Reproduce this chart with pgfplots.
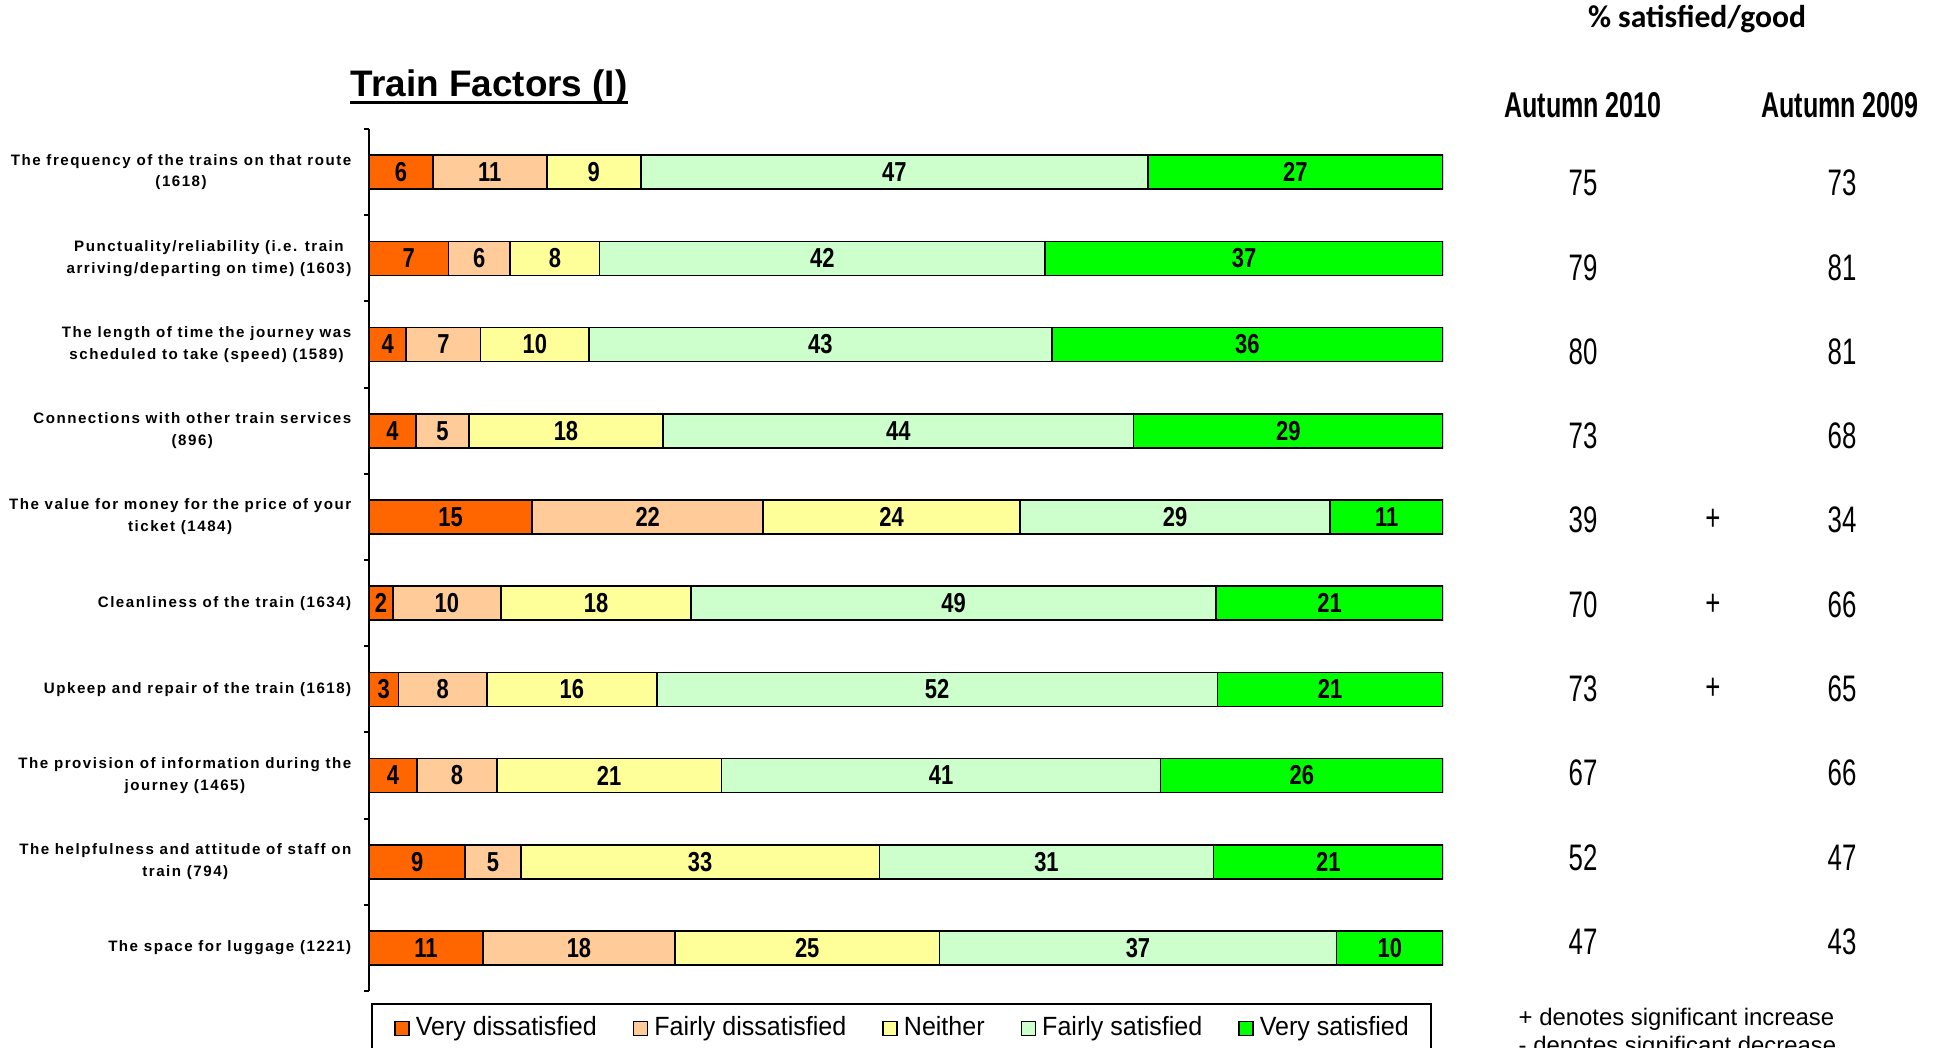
\documentclass[border=0pt]{standalone}
\usepackage{fontspec}
\setmainfont{Liberation Sans}
\newfontfamily\lblfont{Liberation Sans}[LetterSpace=10]
\newfontfamily\barfont{Liberation Sans}[FakeStretch=0.8]
\newfontfamily\condfont{Liberation Sans}[FakeStretch=0.7]
\newfontfamily\legfont{Liberation Sans}[FakeStretch=0.95]
\newfontfamily\calfont{Carlito}
\usepackage{pgfplots}
\usepackage{pgfplotstable}
\pgfplotsset{compat=1.18}

\definecolor{vdis}{HTML}{FF6600}
\definecolor{fdis}{HTML}{FFCC99}
\definecolor{neit}{HTML}{FFFF99}
\definecolor{fsat}{HTML}{CCFFCC}
\definecolor{vsat}{HTML}{00FF00}

% bar widths (percent of respondents) and the rounded labels printed on them
\pgfplotstableread{
row vd    fd    ne    fs    vs    lvd lfd lne lfs lvs
1   5.95  10.6  8.76  47.2  27.49 6   11  9   47  27
2   7.39  5.76  8.31  41.5  37.04 7   6   8   42  37
3   3.47  6.93  10.07 43.1  36.43 4   7   10  43  36
4   4.38  4.91  18.1  43.8  28.81 4   5   18  44  29
5   15.2  21.5  23.9  28.9  10.5  15  22  24  29  11
6   2.22  10.07 17.7  48.9  21.11 2   10  18  49  21
7   2.75  8.24  15.8  52.2  21.01 3   8   16  52  21
8   4.45  7.46  20.9  40.9  26.29 4   8   21  41  26
9   8.96  5.17  33.4  31.1  21.37 9   5   33  31  21
10  10.6  17.9  24.6  37.0  9.9   11  18  25  37  10
}\trainfactors

\begin{document}
\begin{tikzpicture}
\path[use as bounding box] (0,0) rectangle (19.40,-10.48);
\clip (0,0) rectangle (19.40,-10.48);

\node[anchor=base west, inner sep=0pt, font=\bfseries\fontsize{10.5}{12}\selectfont] (title) at (3.50,-0.97) {Train Factors (I)};
\draw[line width=0.3mm] ([yshift=-0.55mm]title.base west) -- ([yshift=-0.55mm]title.base east);

\begin{axis}[
  at={(3.69cm,-1.29cm)}, anchor=north west,
  scale only axis, width=10.74cm, height=8.62cm,
  xbar stacked, bar width=0.34cm,
  xmin=0, xmax=100, ymin=0.5, ymax=10.5, y dir=reverse,
  enlarge x limits=false, enlarge y limits=false,
  axis x line=none, axis y line=left, axis line style={-, line width=0.6pt},
  xtick=\empty,
  ytick={1,...,10}, major tick length=0pt,
  yticklabels={
    {The frequency of the trains on that route\\(1618)},
    {Punctuality/reliability (i.e. train\\arriving/departing on time) (1603)},
    {The length of time the journey was\\scheduled to take (speed) (1589)},
    {Connections with other train services\\(896)},
    {The value for money for the price of your\\ticket (1484)},
    {Cleanliness of the train (1634)},
    {Upkeep and repair of the train (1618)},
    {The provision of information during the\\journey (1465)},
    {The helpfulness and attitude of staff on\\train (794)},
    {The space for luggage (1221)}},
  yticklabel style={align=center, inner sep=0pt, font=\lblfont\bfseries\fontsize{4.3}{6.2}\selectfont},
  yticklabel shift=1.7mm,
  extra y ticks={0.5,1.5,...,10.5}, extra y tick labels={},
  extra y tick style={tick align=outside, major tick length=0.45mm, tick style={black, line width=0.6pt}},
  point meta=explicit,
  nodes near coords={\pgfmathprintnumber[assume math mode=true]{\pgfplotspointmeta}},
  every node near coord/.append style={anchor=center, inner sep=0pt, font=\barfont\bfseries\fontsize{7.8}{9}\selectfont},
  legend image code/.code={\draw[#1] (0cm,-0.07cm) rectangle (0.14cm,0.07cm);},
  legend columns=5,
  legend style={at={(0.002,-0.014)}, anchor=north west, draw=black, line width=0.6pt,
    inner xsep=2.2mm, inner ysep=1.2mm, column sep=0.6mm,
    /tikz/every even column/.append style={column sep=3.6mm},
    font=\legfont\fontsize{7.5}{9}\selectfont, nodes={inner sep=0pt}},
  every axis plot/.append style={draw=black, line width=0.45pt},
]
\addplot[fill=vdis] table[x=vd, y=row, meta=lvd] {\trainfactors};
\addplot[fill=fdis] table[x=fd, y=row, meta=lfd] {\trainfactors};
\addplot[fill=neit] table[x=ne, y=row, meta=lne] {\trainfactors};
\addplot[fill=fsat] table[x=fs, y=row, meta=lfs] {\trainfactors};
\addplot[fill=vsat] table[x=vs, y=row, meta=lvs] {\trainfactors};
\legend{Very dissatisfied, Fairly dissatisfied, Neither, Fairly satisfied, Very satisfied}
\end{axis}

% % satisfied/good table at the right
\node[anchor=base, inner sep=0pt, font=\calfont\bfseries\fontsize{9}{10}\selectfont] at (16.97,-0.28) {\% satisfied/good};
\node[anchor=base, inner sep=0pt, font=\condfont\bfseries\fontsize{10.2}{12}\selectfont] at (15.83,-1.18) {Autumn 2010};
\node[anchor=base, inner sep=0pt, font=\condfont\bfseries\fontsize{10.2}{12}\selectfont] at (18.40,-1.18) {Autumn 2009};
\foreach \a/\p/\b [count=\i from 0] in {75//73, 79//81, 80//81, 73//68, 39/+/34, 70/+/66, 73/+/65, 67//66, 52//47, 47//43}{
  \node[inner sep=0pt, font=\condfont\fontsize{10.5}{12}\selectfont] at (15.83,{-1.83-0.843*\i}) {\a};
  \node[inner sep=0pt, font=\condfont\fontsize{10.5}{12}\selectfont] at (17.13,{-1.83-0.843*\i}) {\p};
  \node[inner sep=0pt, font=\condfont\fontsize{10.5}{12}\selectfont] at (18.42,{-1.83-0.843*\i}) {\b};
}
\node[anchor=base west, inner sep=0pt, font=\fontsize{6.8}{8}\selectfont] at (15.18,-10.25) {+ denotes significant increase};
\node[anchor=base west, inner sep=0pt, font=\fontsize{6.8}{8}\selectfont] at (15.18,-10.53) {- denotes significant decrease};
\end{tikzpicture}
\end{document}
